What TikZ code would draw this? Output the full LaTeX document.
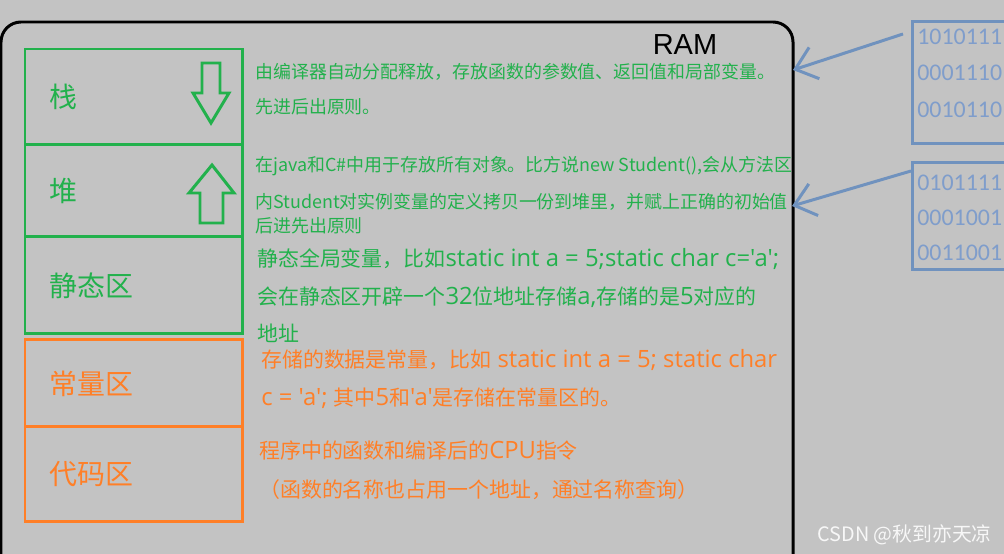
\documentclass[tikz,border=0pt]{standalone}
\usepackage{fontspec}
\setmainfont{Noto Sans CJK SC}
\newfontfamily\ramfont{Liberation Sans}
\newfontfamily\bitfont{Carlito}
\newfontfamily\latfont{Open Sans}[Scale=1.14]
\newcommand{\eng}[1]{{\latfont #1}}
\usetikzlibrary{arrows.meta, positioning}
\definecolor{bggray}{HTML}{C3C3C3}
\definecolor{paintgreen}{HTML}{22B14C}
\definecolor{paintorange}{HTML}{FF7F27}
\definecolor{paintblue}{HTML}{7092BE}
\definecolor{bitblue}{HTML}{7F9DCB}

\begin{document}
\begin{tikzpicture}[x=0.02cm, y=-0.02cm,
    zone/.style={draw, line width=1.7pt, outer sep=0pt, minimum width=4.36cm, text width=3.36cm,
      inner xsep=0.5cm, inner ysep=0pt, align=left, font=\fontsize{15.9}{18}\selectfont},
    greenzone/.style={zone, draw=paintgreen, text=paintgreen},
    orangezone/.style={zone, draw=paintorange, text=paintorange},
    note/.style={anchor=west, inner sep=0pt, font=\fontsize{10.2}{12}\selectfont},
    bignote/.style={anchor=west, inner sep=0pt, font=\fontsize{11.9}{14}\selectfont},
    binbox/.style={draw=paintblue, line width=1.7pt, minimum width=2.4cm, anchor=north west},
    bits/.style={anchor=west, inner sep=0pt, text=bitblue, font=\bitfont\fontsize{13.6}{16}\selectfont},
    pointer/.style={draw=paintblue, line width=1.7pt, -{Straight Barb[length=0.4cm, width=0.66cm]}},
    hollow/.style={draw=paintgreen, line width=1.7pt, line join=miter}]

    \useasboundingbox (0,0) rectangle (1004,554);
    \fill[bggray] (0,0) rectangle (1004,554);
    \clip (0,0) rectangle (1004,554);

    % Draw the RAM frame
    \draw[line width=1.7pt, rounded corners=0.4cm] (1,22) rectangle (793,620);
    \node[font=\ramfont\fontsize{16.5}{20}\selectfont] (ram) at (685,45) {RAM};

    % Draw the memory zones
    \node[greenzone, minimum height=1.92cm, anchor=north west] (stack) at (25,49) {栈};
    \node[greenzone, minimum height=1.84cm, below=0pt of stack] (heap) {堆};
    \node[greenzone, minimum height=1.94cm, below=0pt of heap] (static) {静态区};
    \node[orangezone, minimum height=1.74cm, below=0.12cm of static] (const) {常量区};
    \node[orangezone, minimum height=1.9cm, below=0pt of const] (code) {代码区};

    % Draw the growth arrows
    \draw[hollow] (202,63) -- (220,63) -- (220,93) -- (229,93) -- (211,123) -- (193,93) -- (202,93) -- cycle;
    \draw[hollow] (200,223) -- (223,223) -- (223,193) -- (234,193) -- (212,165) -- (189,193) -- (200,193) -- cycle;

    % Notes beside each zone
    \node[note, text=paintgreen] (stack1) at (255,72) {由编译器自动分配释放，存放函数的参数值、返回值和局部变量。};
    \node[note, text=paintgreen] (stack2) at (255,107) {先进后出原则。};
    \node[note, text=paintgreen] (heap1) at (255,166) {在java和C\#中用于存放所有对象。比方说new Student(),会从方法区};
    \node[note, text=paintgreen] (heap2) at (255,202) {内Student对实例变量的定义拷贝一份到堆里，并赋上正确的初始值};
    \node[note, text=paintgreen] (heap3) at (255,226) {后进先出原则};
    \node[bignote, text=paintgreen] (static1) at (257,259) {静态全局变量，比如\eng{static int a = 5;static char c='a';}};
    \node[bignote, text=paintgreen] (static2) at (257,297) {会在静态区开辟一个\eng{32}位地址存储\eng{a,}存储的是\eng{5}对应的};
    \node[bignote, text=paintgreen] (static3) at (257,333) {地址};
    \node[bignote, text=paintorange] (const1) at (261,360) {存储的数据是常量，比如\eng{ static int a = 5; static char}};
    \node[bignote, text=paintorange] (const2) at (261,398) {\eng{c = 'a'; }其中\eng{5}和\eng{'a'}是存储在常量区的。};
    \node[bignote, text=paintorange] (code1) at (259,451) {程序中的函数和编译后的\eng{CPU}指令};
    \node[bignote, text=paintorange] (code2) at (259,490) {（函数的名称也占用一个地址，通过名称查询）};

    % Binary blocks on the right
    \node[binbox, minimum height=2.44cm] (bin1) at (911,20) {};
    \node[bits] (bit11) at (917,37) {1010111};
    \node[bits] (bit12) at (917,73) {0001110};
    \node[bits] (bit13) at (917,110) {0010110};

    \node[binbox, minimum height=2.14cm] (bin2) at (911,161) {};
    \node[bits] (bit21) at (917,183) {0101111};
    \node[bits] (bit22) at (917,218) {0001001};
    \node[bits] (bit23) at (917,253) {0011001};

    % Draw the pointers into RAM
    \coordinate (stackin) at (793,70);
    \coordinate (heapin) at (792,206);
    \draw[pointer] ([xshift=-0.16cm, yshift=-0.28cm]bin1.north west) -- (stackin);
    \draw[pointer] ([yshift=-0.2cm]bin2.north west) -- (heapin);

    \node[anchor=west, inner sep=0pt, text=white!94!gray, font=\fontsize{11.3}{13}\selectfont] (mark) at (817,535) {CSDN @秋到亦天凉};

\end{tikzpicture}
\end{document}
